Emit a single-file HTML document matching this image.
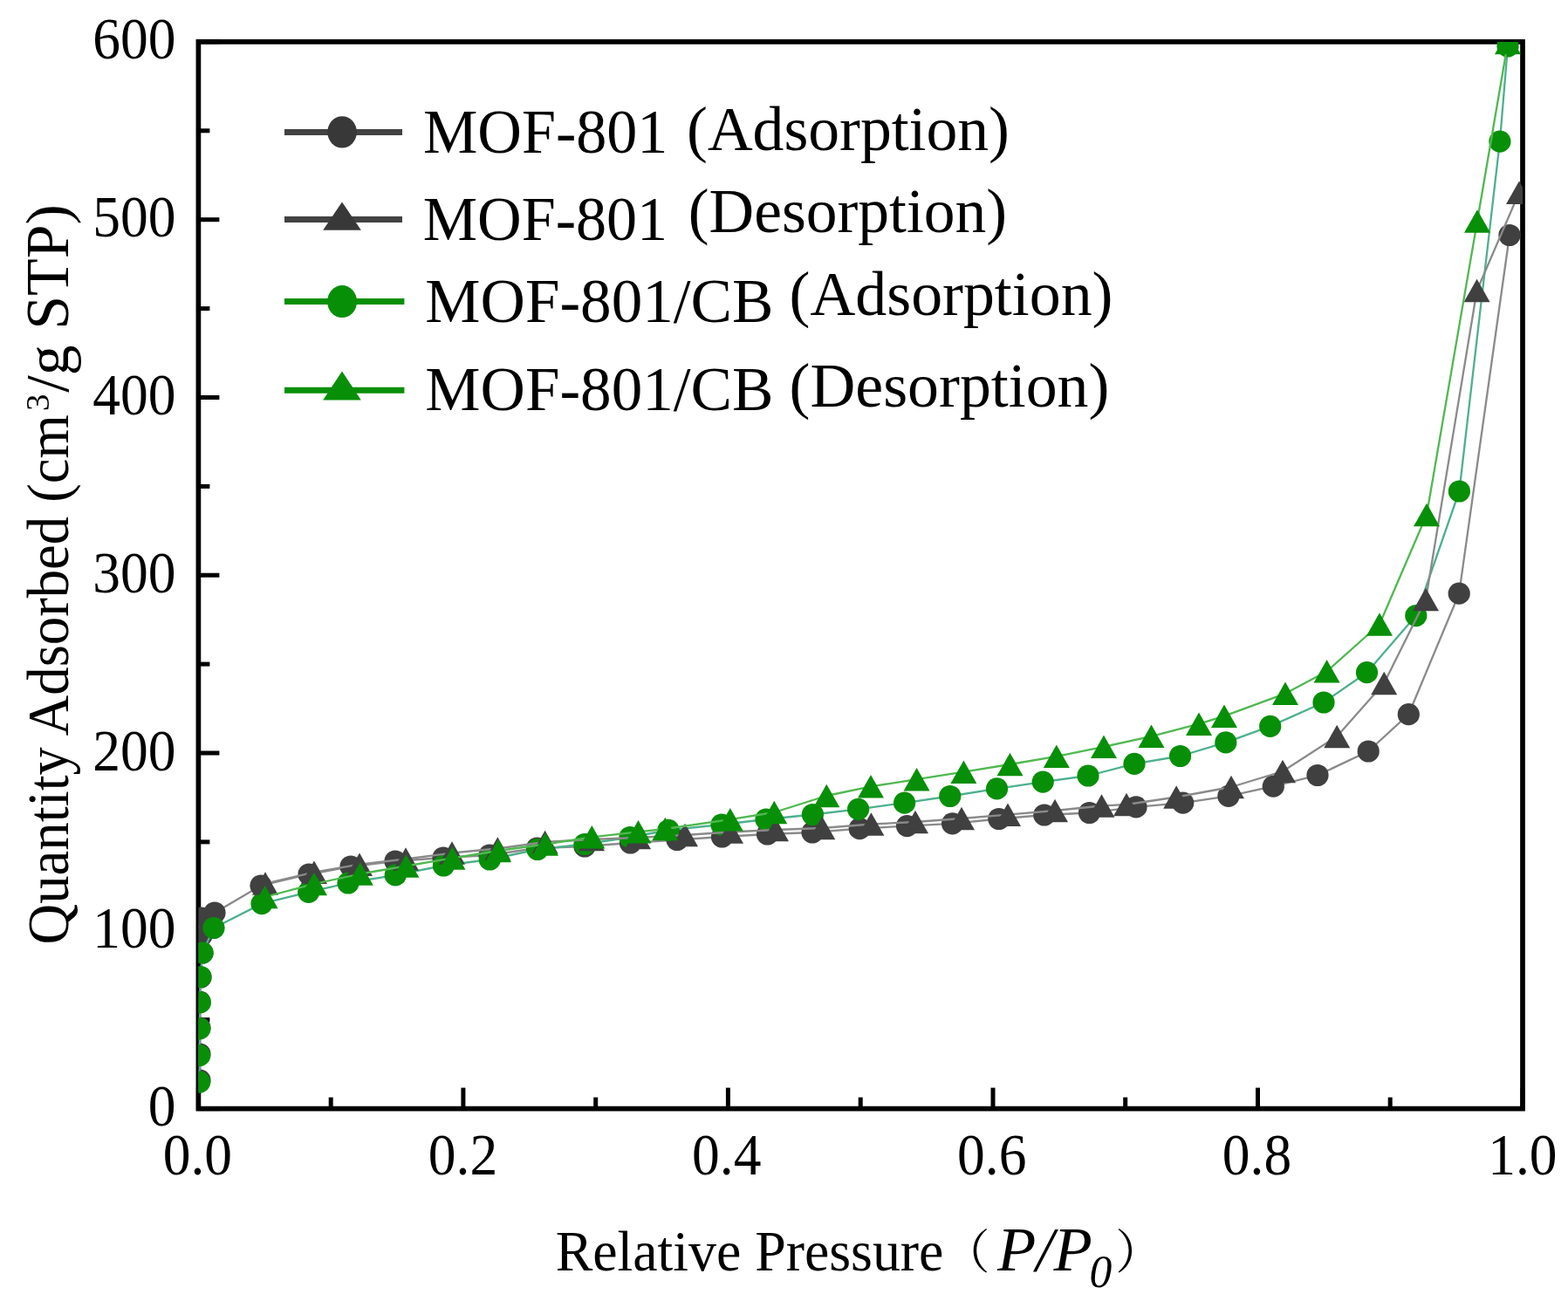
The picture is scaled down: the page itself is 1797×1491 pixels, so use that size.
<!DOCTYPE html>
<html><head><meta charset="utf-8"><title>MOF-801 N2 isotherm</title><style>
html,body{margin:0;padding:0;background:#fff;overflow:hidden;}
svg{display:block;}
text{font-family:"Liberation Serif","Noto Serif CJK SC",serif;}
</style></head><body>
<svg width="1797" height="1491" viewBox="0 0 1797 1491">
<defs><clipPath id="pc"><rect x="227.4" y="47.9" width="1517.6" height="1222.6999999999998"/></clipPath></defs>
<rect width="1797" height="1491" fill="#fff"/>
<rect x="227.4" y="47.9" width="1517.6" height="1222.6999999999998" fill="none" stroke="#000" stroke-width="5.7"/>
<g stroke="#000" stroke-width="5"><line x1="227.4" y1="1270.6" x2="251.4" y2="1270.6"/><line x1="227.4" y1="1168.7" x2="240.4" y2="1168.7"/><line x1="227.4" y1="1066.8" x2="251.4" y2="1066.8"/><line x1="227.4" y1="964.9" x2="240.4" y2="964.9"/><line x1="227.4" y1="863.0" x2="251.4" y2="863.0"/><line x1="227.4" y1="761.1" x2="240.4" y2="761.1"/><line x1="227.4" y1="659.2" x2="251.4" y2="659.2"/><line x1="227.4" y1="557.4" x2="240.4" y2="557.4"/><line x1="227.4" y1="455.5" x2="251.4" y2="455.5"/><line x1="227.4" y1="353.6" x2="240.4" y2="353.6"/><line x1="227.4" y1="251.7" x2="251.4" y2="251.7"/><line x1="227.4" y1="149.8" x2="240.4" y2="149.8"/><line x1="227.4" y1="47.9" x2="251.4" y2="47.9"/><line x1="227.4" y1="1270.6" x2="227.4" y2="1246.6"/><line x1="379.2" y1="1270.6" x2="379.2" y2="1257.6"/><line x1="530.9" y1="1270.6" x2="530.9" y2="1246.6"/><line x1="682.7" y1="1270.6" x2="682.7" y2="1257.6"/><line x1="834.4" y1="1270.6" x2="834.4" y2="1246.6"/><line x1="986.2" y1="1270.6" x2="986.2" y2="1257.6"/><line x1="1138.0" y1="1270.6" x2="1138.0" y2="1246.6"/><line x1="1289.7" y1="1270.6" x2="1289.7" y2="1257.6"/><line x1="1441.5" y1="1270.6" x2="1441.5" y2="1246.6"/><line x1="1593.2" y1="1270.6" x2="1593.2" y2="1257.6"/><line x1="1745.0" y1="1270.6" x2="1745.0" y2="1246.6"/></g>
<g clip-path="url(#pc)">
<polyline points="229.0,1238.0 229.0,1208.0 229.0,1178.0 229.0,1148.0 230.0,1120.0 232.0,1092.0 231.0,1072.0 231.0,1052.0 246.0,1046.0 299.0,1015.0 354.0,1002.0 402.0,993.0 453.0,987.0 508.0,983.0 561.0,980.0 615.5,972.0 670.0,970.0 722.5,966.0 776.0,962.5 827.5,959.0 879.5,956.0 931.0,954.0 985.2,949.7 1039.5,946.6 1091.5,943.8 1144.8,938.5 1196.8,934.0 1248.5,931.5 1302.0,924.9 1355.7,920.2 1407.9,912.4 1459.3,901.2 1510.0,888.5 1568.2,861.0 1614.3,818.7 1672.2,680.2 1730.0,269.5" fill="none" stroke="#8a8a8a" stroke-width="2.3" stroke-linejoin="round"/>
<g fill="#404040"><circle cx="229.0" cy="1238.0" r="12.6"/><circle cx="229.0" cy="1208.0" r="12.6"/><circle cx="229.0" cy="1178.0" r="12.6"/><circle cx="229.0" cy="1148.0" r="12.6"/><circle cx="230.0" cy="1120.0" r="12.6"/><circle cx="232.0" cy="1092.0" r="12.6"/><circle cx="231.0" cy="1072.0" r="12.6"/><circle cx="231.0" cy="1052.0" r="12.6"/><circle cx="246.0" cy="1046.0" r="12.6"/><circle cx="299.0" cy="1015.0" r="12.6"/><circle cx="354.0" cy="1002.0" r="12.6"/><circle cx="402.0" cy="993.0" r="12.6"/><circle cx="453.0" cy="987.0" r="12.6"/><circle cx="508.0" cy="983.0" r="12.6"/><circle cx="561.0" cy="980.0" r="12.6"/><circle cx="615.5" cy="972.0" r="12.6"/><circle cx="670.0" cy="970.0" r="12.6"/><circle cx="722.5" cy="966.0" r="12.6"/><circle cx="776.0" cy="962.5" r="12.6"/><circle cx="827.5" cy="959.0" r="12.6"/><circle cx="879.5" cy="956.0" r="12.6"/><circle cx="931.0" cy="954.0" r="12.6"/><circle cx="985.2" cy="949.7" r="12.6"/><circle cx="1039.5" cy="946.6" r="12.6"/><circle cx="1091.5" cy="943.8" r="12.6"/><circle cx="1144.8" cy="938.5" r="12.6"/><circle cx="1196.8" cy="934.0" r="12.6"/><circle cx="1248.5" cy="931.5" r="12.6"/><circle cx="1302.0" cy="924.9" r="12.6"/><circle cx="1355.7" cy="920.2" r="12.6"/><circle cx="1407.9" cy="912.4" r="12.6"/><circle cx="1459.3" cy="901.2" r="12.6"/><circle cx="1510.0" cy="888.5" r="12.6"/><circle cx="1568.2" cy="861.0" r="12.6"/><circle cx="1614.3" cy="818.7" r="12.6"/><circle cx="1672.2" cy="680.2" r="12.6"/><circle cx="1730.0" cy="269.5" r="12.6"/></g>
<polyline points="228.6,1240.2 228.6,1209.7 228.8,1178.8 229.3,1148.9 229.9,1119.5 232.0,1092.0 245.0,1063.5 300.0,1035.6 353.7,1022.3 399.0,1012.0 453.2,1002.9 508.4,992.0 561.3,985.0 616.0,973.5 670.0,967.5 722.0,959.5 766.0,951.4 827.0,945.0 878.0,939.0 931.4,933.5 983.6,927.3 1036.6,920.2 1088.8,912.5 1142.5,903.9 1195.2,896.1 1247.0,889.0 1300.0,875.4 1352.6,866.5 1404.8,850.9 1455.7,832.4 1517.0,805.0 1566.5,770.7 1622.8,705.6 1672.4,563.0 1718.9,162.2 1728.0,53.0" fill="none" stroke="#4db08e" stroke-width="2.3" stroke-linejoin="round"/>
<g fill="#078f07"><circle cx="228.6" cy="1240.2" r="12.6"/><circle cx="228.6" cy="1209.7" r="12.6"/><circle cx="228.8" cy="1178.8" r="12.6"/><circle cx="229.3" cy="1148.9" r="12.6"/><circle cx="229.9" cy="1119.5" r="12.6"/><circle cx="232.0" cy="1092.0" r="12.6"/><circle cx="245.0" cy="1063.5" r="12.6"/><circle cx="300.0" cy="1035.6" r="12.6"/><circle cx="353.7" cy="1022.3" r="12.6"/><circle cx="399.0" cy="1012.0" r="12.6"/><circle cx="453.2" cy="1002.9" r="12.6"/><circle cx="508.4" cy="992.0" r="12.6"/><circle cx="561.3" cy="985.0" r="12.6"/><circle cx="616.0" cy="973.5" r="12.6"/><circle cx="670.0" cy="967.5" r="12.6"/><circle cx="722.0" cy="959.5" r="12.6"/><circle cx="766.0" cy="951.4" r="12.6"/><circle cx="827.0" cy="945.0" r="12.6"/><circle cx="878.0" cy="939.0" r="12.6"/><circle cx="931.4" cy="933.5" r="12.6"/><circle cx="983.6" cy="927.3" r="12.6"/><circle cx="1036.6" cy="920.2" r="12.6"/><circle cx="1088.8" cy="912.5" r="12.6"/><circle cx="1142.5" cy="903.9" r="12.6"/><circle cx="1195.2" cy="896.1" r="12.6"/><circle cx="1247.0" cy="889.0" r="12.6"/><circle cx="1300.0" cy="875.4" r="12.6"/><circle cx="1352.6" cy="866.5" r="12.6"/><circle cx="1404.8" cy="850.9" r="12.6"/><circle cx="1455.7" cy="832.4" r="12.6"/><circle cx="1517.0" cy="805.0" r="12.6"/><circle cx="1566.5" cy="770.7" r="12.6"/><circle cx="1622.8" cy="705.6" r="12.6"/><circle cx="1672.4" cy="563.0" r="12.6"/><circle cx="1718.9" cy="162.2" r="12.6"/><circle cx="1728.0" cy="53.0" r="12.6"/></g>
<polyline points="1741.0,220.7 1692.6,333.0 1634.0,687.0 1586.2,783.0 1532.2,844.0 1470.0,884.0 1411.0,902.0 1348.2,913.5 1291.0,922.0 1262.5,923.5 1209.0,929.0 1155.0,933.6 1102.0,938.0 1049.0,942.0 998.4,944.5 942.3,949.0 889.0,951.0 837.0,953.5 785.0,957.0 731.0,960.0 678.0,962.0 624.6,965.0 570.3,972.5 518.0,977.5 465.0,984.5 412.0,990.6 360.0,999.6 304.0,1012.5" fill="none" stroke="#8a8a8a" stroke-width="2.3" stroke-linejoin="round"/>
<g fill="#404040"><path d="M1741.0 207.4L1756.0 233.9L1726.0 233.9Z"/><path d="M1692.6 319.8L1707.6 346.2L1677.6 346.2Z"/><path d="M1634.0 673.8L1649.0 700.2L1619.0 700.2Z"/><path d="M1586.2 769.8L1601.2 796.2L1571.2 796.2Z"/><path d="M1532.2 830.8L1547.2 857.2L1517.2 857.2Z"/><path d="M1470.0 870.8L1485.0 897.2L1455.0 897.2Z"/><path d="M1411.0 888.8L1426.0 915.2L1396.0 915.2Z"/><path d="M1348.2 900.2L1363.2 926.8L1333.2 926.8Z"/><path d="M1291.0 908.8L1306.0 935.2L1276.0 935.2Z"/><path d="M1262.5 910.2L1277.5 936.8L1247.5 936.8Z"/><path d="M1209.0 915.8L1224.0 942.2L1194.0 942.2Z"/><path d="M1155.0 920.4L1170.0 946.9L1140.0 946.9Z"/><path d="M1102.0 924.8L1117.0 951.2L1087.0 951.2Z"/><path d="M1049.0 928.8L1064.0 955.2L1034.0 955.2Z"/><path d="M998.4 931.2L1013.4 957.8L983.4 957.8Z"/><path d="M942.3 935.8L957.3 962.2L927.3 962.2Z"/><path d="M889.0 937.8L904.0 964.2L874.0 964.2Z"/><path d="M837.0 940.2L852.0 966.8L822.0 966.8Z"/><path d="M785.0 943.8L800.0 970.2L770.0 970.2Z"/><path d="M731.0 946.8L746.0 973.2L716.0 973.2Z"/><path d="M678.0 948.8L693.0 975.2L663.0 975.2Z"/><path d="M624.6 951.8L639.6 978.2L609.6 978.2Z"/><path d="M570.3 959.2L585.3 985.8L555.3 985.8Z"/><path d="M518.0 964.2L533.0 990.8L503.0 990.8Z"/><path d="M465.0 971.2L480.0 997.8L450.0 997.8Z"/><path d="M412.0 977.4L427.0 1003.9L397.0 1003.9Z"/><path d="M360.0 986.4L375.0 1012.9L345.0 1012.9Z"/><path d="M304.0 999.2L319.0 1025.8L289.0 1025.8Z"/></g>
<polyline points="1728.0,49.0 1693.0,253.5 1635.0,590.0 1581.0,715.5 1520.6,769.4 1473.0,794.8 1403.0,820.7 1374.0,829.6 1319.5,843.9 1265.0,855.9 1210.8,866.8 1157.5,876.0 1104.4,884.6 1050.6,893.2 998.0,901.4 947.3,912.0 887.3,931.0 836.8,939.1 762.3,950.0 731.5,953.3 678.3,959.3 625.0,967.5 571.0,975.0 518.5,983.5 465.4,992.5 412.8,1001.5 360.0,1013.0 303.6,1028.0" fill="none" stroke="#50b850" stroke-width="2.3" stroke-linejoin="round"/>
<g fill="#078f07"><path d="M1728.0 35.8L1743.0 62.2L1713.0 62.2Z"/><path d="M1693.0 240.2L1708.0 266.8L1678.0 266.8Z"/><path d="M1635.0 576.8L1650.0 603.2L1620.0 603.2Z"/><path d="M1581.0 702.2L1596.0 728.8L1566.0 728.8Z"/><path d="M1520.6 756.1L1535.6 782.6L1505.6 782.6Z"/><path d="M1473.0 781.5L1488.0 808.0L1458.0 808.0Z"/><path d="M1403.0 807.5L1418.0 834.0L1388.0 834.0Z"/><path d="M1374.0 816.4L1389.0 842.9L1359.0 842.9Z"/><path d="M1319.5 830.6L1334.5 857.1L1304.5 857.1Z"/><path d="M1265.0 842.6L1280.0 869.1L1250.0 869.1Z"/><path d="M1210.8 853.5L1225.8 880.0L1195.8 880.0Z"/><path d="M1157.5 862.8L1172.5 889.2L1142.5 889.2Z"/><path d="M1104.4 871.4L1119.4 897.9L1089.4 897.9Z"/><path d="M1050.6 880.0L1065.6 906.5L1035.6 906.5Z"/><path d="M998.0 888.1L1013.0 914.6L983.0 914.6Z"/><path d="M947.3 898.8L962.3 925.2L932.3 925.2Z"/><path d="M887.3 917.8L902.3 944.2L872.3 944.2Z"/><path d="M836.8 925.9L851.8 952.4L821.8 952.4Z"/><path d="M762.3 936.8L777.3 963.2L747.3 963.2Z"/><path d="M731.5 940.0L746.5 966.5L716.5 966.5Z"/><path d="M678.3 946.0L693.3 972.5L663.3 972.5Z"/><path d="M625.0 954.2L640.0 980.8L610.0 980.8Z"/><path d="M571.0 961.8L586.0 988.2L556.0 988.2Z"/><path d="M518.5 970.2L533.5 996.8L503.5 996.8Z"/><path d="M465.4 979.2L480.4 1005.8L450.4 1005.8Z"/><path d="M412.8 988.2L427.8 1014.8L397.8 1014.8Z"/><path d="M360.0 999.8L375.0 1026.2L345.0 1026.2Z"/><path d="M303.6 1014.8L318.6 1041.2L288.6 1041.2Z"/></g>
</g>
<g fill="#000"><text transform="translate(169.87,1290.10) scale(0.9478,1)" font-size="67.00">0</text><text transform="translate(106.37,1086.32) scale(0.9478,1)" font-size="67.00">100</text><text transform="translate(106.37,882.53) scale(0.9478,1)" font-size="67.00">200</text><text transform="translate(106.37,678.75) scale(0.9478,1)" font-size="67.00">300</text><text transform="translate(106.37,474.97) scale(0.9478,1)" font-size="67.00">400</text><text transform="translate(106.37,271.18) scale(0.9478,1)" font-size="67.00">500</text><text transform="translate(106.37,67.40) scale(0.9478,1)" font-size="67.00">600</text><text transform="translate(186.71,1345.60) scale(0.9478,1)" font-size="67.00">0.0</text><text transform="translate(490.78,1345.60) scale(0.9478,1)" font-size="67.00">0.2</text><text transform="translate(793.04,1345.60) scale(0.9478,1)" font-size="67.00">0.4</text><text transform="translate(1097.01,1345.60) scale(0.9478,1)" font-size="67.00">0.6</text><text transform="translate(1400.79,1345.60) scale(0.9478,1)" font-size="67.00">0.8</text><text transform="translate(1705.23,1345.60) scale(0.9478,1)" font-size="67.00">1.0</text></g>

<g fill="none">
<line x1="326" y1="151.4" x2="461" y2="151.4" stroke="#424242" stroke-width="7"/>
<line x1="326" y1="251.4" x2="461" y2="251.4" stroke="#424242" stroke-width="7"/>
<line x1="326" y1="345.6" x2="463.4" y2="345.6" stroke="#078f07" stroke-width="7"/>
<line x1="326" y1="447.2" x2="463.4" y2="447.2" stroke="#078f07" stroke-width="7"/>
</g>
<ellipse cx="392.1" cy="151.4" rx="16.8" ry="18.2" fill="#383838"/>
<path d="M392 231.5L413.8 263.7L370.2 263.7Z" fill="#383838"/>
<ellipse cx="392.1" cy="345.6" rx="17" ry="18.5" fill="#078f07"/>
<path d="M392 425.5L413.8 458.6L370.2 458.6Z" fill="#078f07"/>
<g fill="#000"><text transform="translate(484.98,174.80) scale(0.9709,1)" font-size="72.20">MOF-801</text><text transform="translate(787.05,172.40) scale(0.9917,1)" font-size="72.20">(Adsorption)</text><text transform="translate(484.78,275.00) scale(0.9709,1)" font-size="72.20">MOF-801</text><text transform="translate(788.76,266.20) scale(0.9903,1)" font-size="72.20">(Desorption)</text><text transform="translate(487.35,368.60) scale(0.9848,1)" font-size="72.20">MOF-801/CB</text><text transform="translate(904.54,361.20) scale(0.9945,1)" font-size="72.20">(Adsorption)</text><text transform="translate(487.35,470.20) scale(0.9848,1)" font-size="72.20">MOF-801/CB</text><text transform="translate(904.54,466.30) scale(0.9945,1)" font-size="72.20">(Desorption)</text></g>

<g fill="#000"><text transform="translate(78.00,1082.45) rotate(-90) scale(0.9657,1)" font-size="67.00">Quantity Adsorbed (cm</text><text transform="translate(55.50,471.07) rotate(-90) scale(1.0456,1)" font-size="37.30">3</text><text transform="translate(78.00,449.70) rotate(-90) scale(1.0130,1)" font-size="69.00">/g STP)</text></g>
<g fill="#000"><text transform="translate(636.66,1456.00) scale(0.9667,1)" font-size="66.00">Relative Pressure</text><text x="1080.55" y="1454.30" font-size="54">（</text><text transform="translate(1142.99,1456.20) scale(1.0000,1)" font-size="72.50" font-style="italic">P/P</text><text transform="translate(1248.41,1475.30) scale(0.9829,1)" font-size="52.60" font-style="italic">0</text><text x="1278.20" y="1454.30" font-size="54">）</text></g>
</svg>
</body></html>
